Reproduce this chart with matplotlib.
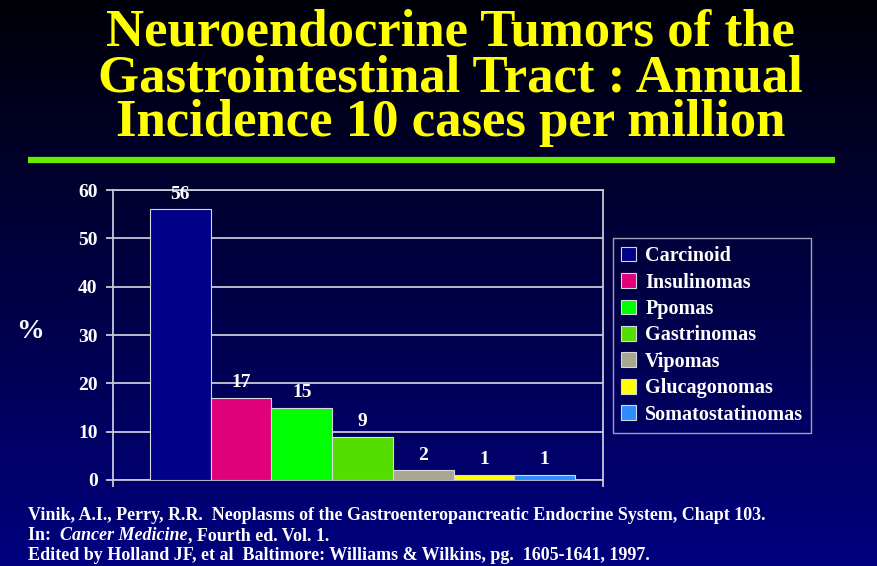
import matplotlib.pyplot as plt
import numpy as np
from matplotlib.patches import Rectangle

# data
tumors = ["Carcinoid", "Insulinomas", "Ppomas", "Gastrinomas", "Vipomas",
          "Glucagonomas", "Somatostatinomas"]
percent = [56, 17, 15, 9, 2, 1, 1]
bar_colors = ["#000088", "#e0007a", "#00ff00", "#55dd00", "#a8a890",
              "#ffff00", "#2f8cff"]
yticks = [0, 10, 20, 30, 40, 50, 60]
title_lines = ["Neuroendocrine Tumors of the",
               "Gastrointestinal Tract : Annual",
               "Incidence 10 cases per million"]

SERIF = "Liberation Serif"

fig = plt.figure(figsize=(8.77, 5.66), dpi=100)

# background gradient, black at the top to navy at the bottom
bg = fig.add_axes([0, 0, 1, 1], zorder=-10)
grad = np.linspace(0, 1, 256).reshape(-1, 1)
top = np.array([0.0, 0.0, 0.03])
bot = np.array([0.0, 0.0, 0.50])
img = top + (bot - top) * grad[:, :, None]
bg.imshow(img, aspect="auto", extent=[0, 1, 0, 1], origin="upper")
bg.set_axis_off()

# title
for i, y in enumerate([33, 78, 123]):
    fig.text(0.514, 1 - y / 566, title_lines[i], ha="center", va="center",
             color="#ffff00", fontsize=38, fontweight="bold", family=SERIF)

# green rule under the title
bg.plot([0.032, 0.952], [1 - 160 / 566, 1 - 160 / 566], color="#66ee00",
        lw=4.5, solid_capstyle="butt", transform=bg.transAxes)

# bar chart
ax = fig.add_axes([113 / 877, 1 - 480 / 566, 490 / 877, 290 / 566])
ax.set_facecolor("none")
x = np.arange(len(tumors))
ax.set_ylim(0, 60)
ax.set_xlim(-1.11, 6.96)
ax.set_yticks(yticks)
ax.yaxis.grid(True, color="#c8c8d8", lw=1.3)
ax.set_axisbelow(True)
ax.bar(x, percent, width=1.0, color=bar_colors, edgecolor="#d8d8e0",
       linewidth=0.8, zorder=3)
for xi, v in zip(x, percent):
    ax.text(xi, v + 1.4, str(v), ha="center", va="bottom", color="white",
            fontsize=14, fontweight="bold", family=SERIF)

for s in ax.spines.values():
    s.set_color("#c8c8d8")
    s.set_linewidth(1.3)
ax.set_xticks([-1.11, 6.96])
ax.set_xticklabels([])
ax.tick_params(axis="x", length=5, color="#c8c8d8", width=1.3)
ax.tick_params(axis="y", length=5, color="#c8c8d8", width=1.3, pad=6,
               labelcolor="white", labelsize=14)
for lbl in ax.get_yticklabels():
    lbl.set_fontweight("bold")
    lbl.set_family(SERIF)

fig.text(16 / 877, 1 - 331 / 566, "%", ha="left", va="center", color="white",
         fontsize=20, fontweight="bold", family=SERIF)

# legend
handles = [Rectangle((0, 0), 1, 1, facecolor=c, edgecolor="#d8d8e0", lw=0.8)
           for c in bar_colors]
leg = fig.legend(handles, tumors, loc="upper left",
                 bbox_to_anchor=(613 / 877, 1 - 238 / 566),
                 frameon=True, fancybox=False, handlelength=0.75,
                 handleheight=0.75, handletextpad=0.45, labelspacing=0.32,
                 borderpad=0.4, borderaxespad=0,
                 prop={"family": SERIF, "weight": "bold", "size": 14.5})
leg.get_frame().set_facecolor("none")
leg.get_frame().set_edgecolor("#c8c8d8")
leg.get_frame().set_linewidth(1.0)
for t in leg.get_texts():
    t.set_color("white")

# citation
fs = 13
cite_y = [516, 536, 555]
fig.text(28 / 877, 1 - cite_y[0] / 566,
         "Vinik, A.I., Perry, R.R.  Neoplasms of the Gastroenteropancreatic "
         "Endocrine System, Chapt 103.",
         color="white", fontsize=fs, fontweight="bold", family=SERIF,
         va="center")
r = fig.canvas.get_renderer()
t1 = fig.text(28 / 877, 1 - cite_y[1] / 566, "In:  ", color="white",
              fontsize=fs, fontweight="bold", family=SERIF, va="center")
t2 = fig.text(0, 0, "Cancer Medicine", color="white", fontsize=fs,
              fontweight="bold", family=SERIF, style="italic", va="center")
fig.canvas.draw()
bb = t1.get_window_extent(r).transformed(fig.transFigure.inverted())
t2.set_position((bb.x1, 1 - cite_y[1] / 566))
fig.canvas.draw()
bb2 = t2.get_window_extent(r).transformed(fig.transFigure.inverted())
fig.text(bb2.x1, 1 - cite_y[1] / 566, ", Fourth ed. Vol. 1.", color="white",
         fontsize=fs, fontweight="bold", family=SERIF, va="center")
fig.text(28 / 877, 1 - cite_y[2] / 566,
         "Edited by Holland JF, et al  Baltimore: Williams & Wilkins, pg.  "
         "1605-1641, 1997.",
         color="white", fontsize=fs, fontweight="bold", family=SERIF,
         va="center")

fig.savefig("out.png", dpi=100)
